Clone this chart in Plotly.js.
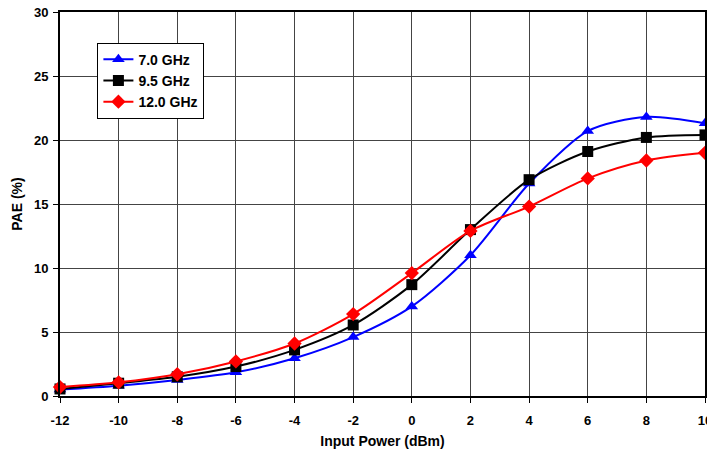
<!DOCTYPE html>
<html><head><meta charset="utf-8">
<script src="https://cdn.plot.ly/plotly-3.0.1.min.js"></script>
<style>body{margin:0;padding:0;background:#fff}#c{width:707px;height:453px}</style>
</head><body><div id="c"></div>
<script>
const inputPower = [-12, -10, -8, -6, -4, -2, 0, 2, 4, 6, 8, 10];
const pae7 = [0.5, 0.8, 1.25, 1.85, 2.95, 4.6, 7.0, 11.0, 16.6, 20.7, 21.8, 21.3];
const pae95 = [0.55, 1.0, 1.5, 2.3, 3.6, 5.55, 8.7, 13.0, 16.9, 19.1, 20.2, 20.4];
const pae12 = [0.7, 1.07, 1.7, 2.7, 4.1, 6.4, 9.6, 12.9, 14.8, 17.0, 18.4, 19.0];
const seriesNames = ['7.0 GHz', '9.5 GHz', '12.0 GHz'];
const xTickVals = [-12, -10, -8, -6, -4, -2, 0, 2, 4, 6, 8, 10];
const xTickText = ['-12', '-10', '-8', '-6', '-4', '-2', '0', '2', '4', '6', '8', '10'];

const mk = (y, name, color, symbol, size) => ({
  x: inputPower, y: y, name: name, type: 'scatter', mode: 'lines+markers',
  line: {color: color, width: 2, shape: 'spline', smoothing: 0.8},
  marker: {color: color, symbol: symbol, size: size},
  cliponaxis: false
});
const data = [
  mk(pae7, seriesNames[0], '#0000ff', 'triangle-up', 11),
  mk(pae95, seriesNames[1], '#000000', 'square', 11),
  mk(pae12, seriesNames[2], '#ff0000', 'diamond', 11)
];
const fam = 'Liberation Sans, Arial, sans-serif';
const tickFont = {family: fam, size: 13, color: '#000', weight: 'bold'};
const titleFont = {family: fam, size: 14, color: '#000', weight: 'bold'};
const layout = {
  width: 707, height: 453,
  margin: {l: 60, r: 2, t: 12, b: 57},
  paper_bgcolor: '#fff', plot_bgcolor: '#fff',
  font: tickFont,
  showlegend: true,
  legend: {x: 0.058, y: 0.92, xanchor: 'left', yanchor: 'top', bgcolor: '#fff',
    bordercolor: '#000', borderwidth: 1, font: {family: fam, size: 14, color: '#000', weight: 'bold'},
    tracegroupgap: 0, itemwidth: 30},
  xaxis: {range: [-12, 10], tickmode: 'array', tickvals: xTickVals, ticktext: xTickText,
    showgrid: true, gridcolor: '#444', gridwidth: 1,
    zeroline: false, showline: true, linecolor: '#000', linewidth: 2, mirror: true,
    ticks: 'outside', ticklen: 5, tickcolor: '#000', tickfont: tickFont,
    ticklabelstandoff: 6, ticklabeloverflow: 'allow',
    title: {text: 'Input Power (dBm)', font: titleFont, standoff: 10}},
  yaxis: {range: [0, 30], dtick: 5, showgrid: true, gridcolor: '#444', gridwidth: 1,
    zeroline: false, showline: true, linecolor: '#000', linewidth: 2, mirror: true,
    ticks: 'outside', ticklen: 5, tickcolor: '#000', tickfont: tickFont,
    ticklabelstandoff: 2,
    title: {text: 'PAE (%)', font: titleFont, standoff: 8}}
};
Plotly.newPlot('c', data, layout, {displayModeBar: false, staticPlot: true});
</script></body></html>
